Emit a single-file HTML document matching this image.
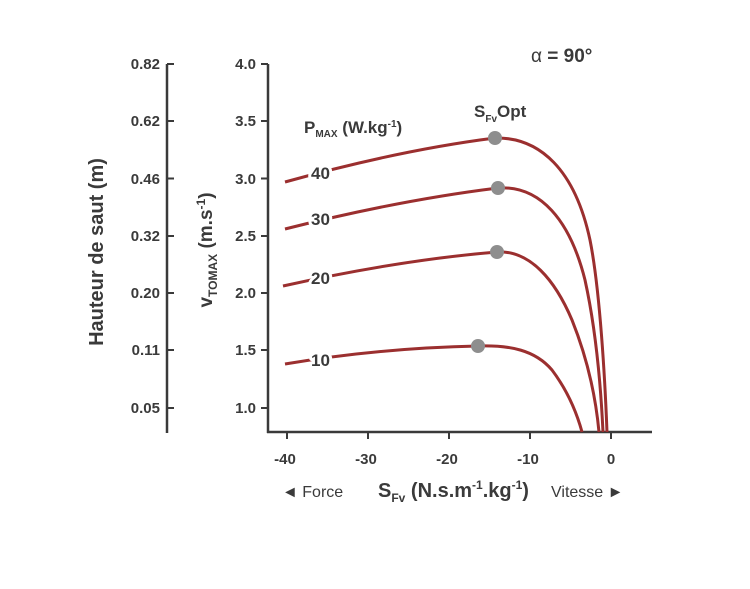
<!DOCTYPE html>
<html><head><meta charset="utf-8"><style>
body{margin:0;background:#fff;}
svg{display:block;font-family:"Liberation Sans Narrow","Liberation Sans",sans-serif;font-weight:bold;fill:#3a3a3a;}
.lab{paint-order:stroke;stroke:#fff;stroke-width:6px;stroke-linejoin:round;}
</style></head><body>
<svg width="750" height="589" viewBox="0 0 750 589">
<g stroke="#3a3a3a" stroke-width="2.5" fill="none">
<line x1="268" y1="64" x2="268" y2="433"/>
<line x1="267" y1="432" x2="652" y2="432"/>
<line x1="167" y1="64" x2="167" y2="433"/>
</g>
<g stroke="#3a3a3a" stroke-width="2">
<line x1="261" y1="64" x2="268" y2="64"/><line x1="261" y1="121" x2="268" y2="121"/><line x1="261" y1="178.5" x2="268" y2="178.5"/><line x1="261" y1="236" x2="268" y2="236"/><line x1="261" y1="293" x2="268" y2="293"/><line x1="261" y1="350" x2="268" y2="350"/><line x1="261" y1="408" x2="268" y2="408"/>
<line x1="167" y1="64" x2="174" y2="64"/><line x1="167" y1="121" x2="174" y2="121"/><line x1="167" y1="178.5" x2="174" y2="178.5"/><line x1="167" y1="236" x2="174" y2="236"/><line x1="167" y1="293" x2="174" y2="293"/><line x1="167" y1="350" x2="174" y2="350"/><line x1="167" y1="408" x2="174" y2="408"/>
<line x1="287" y1="432" x2="287" y2="439"/><line x1="368" y1="432" x2="368" y2="439"/><line x1="449" y1="432" x2="449" y2="439"/><line x1="530" y1="432" x2="530" y2="439"/><line x1="611" y1="432" x2="611" y2="439"/>
</g>
<g font-size="15" text-anchor="end">
<text x="256" y="69">4.0</text><text x="256" y="126">3.5</text><text x="256" y="184">3.0</text><text x="256" y="241">2.5</text><text x="256" y="298">2.0</text><text x="256" y="355">1.5</text><text x="256" y="413">1.0</text>
<text x="160" y="69">0.82</text><text x="160" y="126">0.62</text><text x="160" y="184">0.46</text><text x="160" y="241">0.32</text><text x="160" y="298">0.20</text><text x="160" y="355">0.11</text><text x="160" y="413">0.05</text>
</g>
<g font-size="15" text-anchor="middle">
<text x="285" y="464">-40</text><text x="366" y="464">-30</text><text x="447" y="464">-20</text><text x="528" y="464">-10</text><text x="611" y="464">0</text>
</g>
<g stroke="#9b2f2f" stroke-width="3" fill="none">
<path d="M285,182 Q400,150 495,138 C540,137 575,170 590,240 C600,290 605,380 607,432"/>
<path d="M285,229 Q400,200 498,188 C540,185 570,220 585,280 C596,330 601,390 603,432"/>
<path d="M283,286 Q400,260 497,252 C530,250 555,280 572,320 C588,360 596,400 599,432"/>
<path d="M285,364 Q380,348 478,346 C510,345 535,350 552,370 C567,390 576,410 582,432"/>
</g>
<g fill="#8e8e8e">
<circle cx="495" cy="138" r="7"/><circle cx="498" cy="188" r="7"/><circle cx="497" cy="252" r="7"/><circle cx="478" cy="346" r="7"/>
</g>
<g font-size="17" fill="#3a3a3a" class="lab">
<text x="311" y="179">40</text><text x="311" y="225">30</text><text x="311" y="284">20</text><text x="311" y="366">10</text>
</g>
<g font-size="17" fill="#3a3a3a">
<text x="304" y="133">P<tspan font-size="10" dy="4">MAX</tspan><tspan dy="-4"> (W.kg</tspan><tspan font-size="10" dy="-6">-1</tspan><tspan dy="6">)</tspan></text>
<text x="474" y="117">S<tspan font-size="10" dy="5">Fv</tspan><tspan dy="-5">Opt</tspan></text>
</g>
<text x="531" y="62" font-size="19" font-weight="normal">α <tspan font-weight="bold">= 90°</tspan></text>
<text transform="translate(212,250) rotate(-90)" text-anchor="middle" font-size="19">v<tspan font-size="12" dy="5">TOMAX</tspan><tspan dy="-5"> (m.s</tspan><tspan font-size="12" dy="-7">-1</tspan><tspan dy="7">)</tspan></text>
<text transform="translate(103,252) rotate(-90)" text-anchor="middle" font-size="20">Hauteur de saut (m)</text>
<text x="282" y="497" font-size="16" font-weight="normal">◄ Force</text>
<text x="378" y="497" font-size="20">S<tspan font-size="12" dy="5">Fv</tspan><tspan dy="-5"> (N.s.m</tspan><tspan font-size="12" dy="-8">-1</tspan><tspan dy="8">.kg</tspan><tspan font-size="12" dy="-8">-1</tspan><tspan dy="8">)</tspan></text>
<text x="551" y="497" font-size="16" font-weight="normal">Vitesse ►</text>
</svg>
</body></html>
